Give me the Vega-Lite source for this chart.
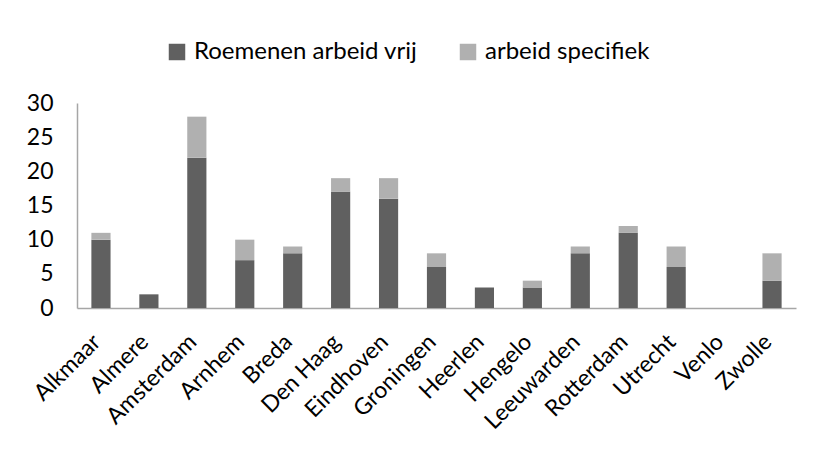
{
  "$schema": "https://vega.github.io/schema/vega-lite/v6.json",
  "autosize": {"type": "none"},
  "width": 719,
  "height": 205,
  "padding": {"left": 77, "top": 103, "right": 17, "bottom": 144},
  "background": "white",
  "config": {
    "view": {"stroke": null},
    "font": "Lato",
    "axis": {"labelFont": "Lato", "labelColor": "#000000", "domainColor": "#a6a6a6", "domainWidth": 1.5, "ticks": false, "grid": false, "title": null},
    "legend": {"labelFont": "Lato"}
  },
  "data": {
    "values": [
      {"stad": "Alkmaar", "reeks": "Roemenen arbeid vrij", "aantal": 10},
      {"stad": "Alkmaar", "reeks": "arbeid specifiek", "aantal": 1},
      {"stad": "Almere", "reeks": "Roemenen arbeid vrij", "aantal": 2},
      {"stad": "Almere", "reeks": "arbeid specifiek", "aantal": 0},
      {"stad": "Amsterdam", "reeks": "Roemenen arbeid vrij", "aantal": 22},
      {"stad": "Amsterdam", "reeks": "arbeid specifiek", "aantal": 6},
      {"stad": "Arnhem", "reeks": "Roemenen arbeid vrij", "aantal": 7},
      {"stad": "Arnhem", "reeks": "arbeid specifiek", "aantal": 3},
      {"stad": "Breda", "reeks": "Roemenen arbeid vrij", "aantal": 8},
      {"stad": "Breda", "reeks": "arbeid specifiek", "aantal": 1},
      {"stad": "Den Haag", "reeks": "Roemenen arbeid vrij", "aantal": 17},
      {"stad": "Den Haag", "reeks": "arbeid specifiek", "aantal": 2},
      {"stad": "Eindhoven", "reeks": "Roemenen arbeid vrij", "aantal": 16},
      {"stad": "Eindhoven", "reeks": "arbeid specifiek", "aantal": 3},
      {"stad": "Groningen", "reeks": "Roemenen arbeid vrij", "aantal": 6},
      {"stad": "Groningen", "reeks": "arbeid specifiek", "aantal": 2},
      {"stad": "Heerlen", "reeks": "Roemenen arbeid vrij", "aantal": 3},
      {"stad": "Heerlen", "reeks": "arbeid specifiek", "aantal": 0},
      {"stad": "Hengelo", "reeks": "Roemenen arbeid vrij", "aantal": 3},
      {"stad": "Hengelo", "reeks": "arbeid specifiek", "aantal": 1},
      {"stad": "Leeuwarden", "reeks": "Roemenen arbeid vrij", "aantal": 8},
      {"stad": "Leeuwarden", "reeks": "arbeid specifiek", "aantal": 1},
      {"stad": "Rotterdam", "reeks": "Roemenen arbeid vrij", "aantal": 11},
      {"stad": "Rotterdam", "reeks": "arbeid specifiek", "aantal": 1},
      {"stad": "Utrecht", "reeks": "Roemenen arbeid vrij", "aantal": 6},
      {"stad": "Utrecht", "reeks": "arbeid specifiek", "aantal": 3},
      {"stad": "Venlo", "reeks": "Roemenen arbeid vrij", "aantal": 0},
      {"stad": "Venlo", "reeks": "arbeid specifiek", "aantal": 0},
      {"stad": "Zwolle", "reeks": "Roemenen arbeid vrij", "aantal": 4},
      {"stad": "Zwolle", "reeks": "arbeid specifiek", "aantal": 4}
    ]
  },
  "mark": {"type": "bar"},
  "encoding": {
    "x": {
      "field": "stad", "type": "nominal", "sort": null,
      "scale": {"paddingInner": 0.6, "paddingOuter": 0.3},
      "axis": {"labelAngle": -45, "labelFontSize": 23, "labelPadding": 30, "labelOffset": -4, "labelAlign": "right", "labelBaseline": "middle"}
    },
    "y": {
      "field": "aantal", "type": "quantitative", "stack": "zero",
      "scale": {"domain": [0, 30], "nice": false},
      "axis": {"values": [0, 5, 10, 15, 20, 25, 30], "labelFontSize": 23, "labelPadding": 24}
    },
    "color": {
      "field": "reeks", "type": "nominal",
      "scale": {"domain": ["Roemenen arbeid vrij", "arbeid specifiek"], "range": ["#606060", "#b0b0b0"]},
      "legend": {
        "title": null, "orient": "none", "direction": "horizontal",
        "legendX": 88, "legendY": -63,
        "symbolType": "square", "symbolSize": 272, "symbolStrokeWidth": 0,
        "labelFontSize": 24, "labelLimit": 0, "labelColor": "#000000", "columnPadding": 38, "labelOffset": 5
      }
    },
    "order": {"field": "reeks", "sort": "ascending"}
  }
}
